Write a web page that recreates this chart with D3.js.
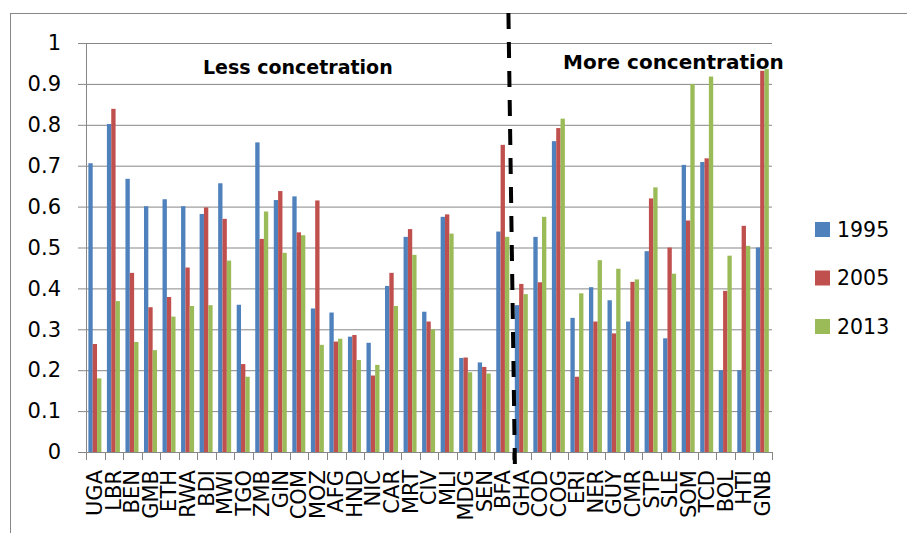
<!DOCTYPE html>
<html>
<head>
<meta charset="utf-8">
<script src="https://cdn.jsdelivr.net/npm/d3@7"></script>
<style>
  body { margin: 0; background: #fff; }
  svg { display: block; font-family: 'DejaVu Sans', sans-serif; }
</style>
</head>
<body>
<div id="chart"></div>
<script>
const countries = ['UGA', 'LBR', 'BEN', 'GMB', 'ETH', 'RWA', 'BDI', 'MWI', 'TGO', 'ZMB', 'GIN', 'COM', 'MOZ',
  'AFG', 'HND', 'NIC', 'CAR', 'MRT', 'CIV', 'MLI', 'MDG', 'SEN', 'BFA', 'GHA', 'COD', 'COG', 'ERI', 'NER',
  'GUY', 'CMR', 'STP', 'SLE', 'SOM', 'TCD', 'BOL', 'HTI', 'GNB']

const years = ['1995', '2005', '2013']

const v1995 = [0.706, 0.802, 0.668, 0.601, 0.618, 0.601, 0.582, 0.657, 0.360, 0.757, 0.616, 0.625, 0.351,
  0.341, 0.282, 0.267, 0.406, 0.526, 0.343, 0.575, 0.230, 0.219, 0.539, 0.359, 0.526, 0.760, 0.328, 0.403,
  0.371, 0.319, 0.491, 0.278, 0.702, 0.709, 0.200, 0.200, 0.500]

const v2005 = [0.264, 0.839, 0.438, 0.354, 0.379, 0.451, 0.598, 0.570, 0.215, 0.521, 0.638, 0.537, 0.615,
  0.270, 0.286, 0.187, 0.438, 0.545, 0.319, 0.581, 0.231, 0.208, 0.751, 0.411, 0.415, 0.792, 0.184, 0.319,
  0.290, 0.416, 0.620, 0.500, 0.566, 0.718, 0.394, 0.553, 0.932]

const v2013 = [0.180, 0.369, 0.269, 0.249, 0.331, 0.357, 0.359, 0.468, 0.184, 0.588, 0.487, 0.530, 0.262,
  0.277, 0.225, 0.213, 0.357, 0.482, 0.300, 0.534, 0.195, 0.192, 0.526, 0.386, 0.575, 0.815, 0.388, 0.469,
  0.448, 0.422, 0.647, 0.436, 0.900, 0.918, 0.480, 0.504, 0.936]

const yTicks = [0, 0.1, 0.2, 0.3, 0.4, 0.5, 0.6, 0.7, 0.8, 0.9, 1]
const yTickLabels = ['0', '0.1', '0.2', '0.3', '0.4', '0.5', '0.6', '0.7', '0.8', '0.9', '1']

const splitAt = 'GHA'
const leftNote = 'Less concetration'
const rightNote = 'More concentration'

const colors = ['#4f81bd', '#c0504d', '#9bbb59']
const gridColor = '#878787'

const width = 907
const height = 533
const plot = { left: 86, right: 772, top: 43, bottom: 452 }

const seriesData = [v1995, v2005, v2013]
const rows = countries.map((c, i) => ({
  country: c,
  values: years.map((y, k) => ({ year: y, value: seriesData[k][i] }))
}))

const svg = d3.select('#chart')
  .append('svg')
  .attr('width', width)
  .attr('height', height)

// outer chart border (runs off the picture on the right and bottom)
svg.append('rect')
  .attr('x', 10.5)
  .attr('y', 13.5)
  .attr('width', 1000)
  .attr('height', 600)
  .attr('fill', 'none')
  .attr('stroke', gridColor)
  .attr('stroke-width', 1)

const xScale = d3.scaleBand()
  .domain(countries)
  .range([plot.left, plot.right])
  .padding(0)

const groupW = 13
const xInner = d3.scaleBand()
  .domain(years)
  .range([(xScale.bandwidth() - groupW) / 2 - 0.4, (xScale.bandwidth() + groupW) / 2 - 0.4])

const yScale = d3.scaleLinear()
  .domain([0, 1])
  .range([plot.bottom, plot.top])

// gridlines and left axis
svg.append('g')
  .attr('transform', `translate(${plot.left},0)`)
  .call(d3.axisLeft(yScale)
    .tickValues(yTicks)
    .tickSize(-(plot.right - plot.left))
    .tickSizeOuter(0)
    .tickPadding(25)
    .tickFormat((d, i) => yTickLabels[i]))
  .call(g => g.select('.domain').remove())
  .call(g => g.selectAll('.tick line')
    .attr('x1', -8)
    .attr('stroke', gridColor))
  .call(g => g.selectAll('.tick text')
    .attr('font-size', '21px')
    .attr('font-family', "'DejaVu Sans', sans-serif")
    .attr('fill', '#000'))

svg.append('line')
  .attr('x1', plot.left + 0.5)
  .attr('x2', plot.left + 0.5)
  .attr('y1', yScale(1))
  .attr('y2', yScale(0))
  .attr('stroke', gridColor)

// bars
const groups = svg.selectAll('.group')
  .data(rows)
  .enter().append('g')
  .attr('class', 'group')
  .attr('transform', d => `translate(${xScale(d.country)},0)`)

groups.selectAll('rect')
  .data(d => d.values)
  .enter().append('rect')
  .attr('x', d => xInner(d.year))
  .attr('width', xInner.bandwidth())
  .attr('y', d => yScale(d.value))
  .attr('height', d => yScale(0) - yScale(d.value))
  .attr('fill', (d, i) => colors[i])

// category ticks at band boundaries
const boundaries = countries.map(c => xScale(c)).concat([plot.right])
svg.selectAll('.xtick')
  .data(boundaries)
  .enter().append('line')
  .attr('class', 'xtick')
  .attr('x1', d => Math.round(d) + 0.5)
  .attr('x2', d => Math.round(d) + 0.5)
  .attr('y1', yScale(0))
  .attr('y2', yScale(0) + 8)
  .attr('stroke', gridColor)

svg.append('line')
  .attr('x1', plot.left)
  .attr('x2', plot.right)
  .attr('y1', yScale(0) + 0.5)
  .attr('y2', yScale(0) + 0.5)
  .attr('stroke', gridColor)

// rotated category labels
svg.selectAll('.xlabel')
  .data(countries)
  .enter().append('text')
  .attr('class', 'xlabel')
  .attr('transform', d => `translate(${xScale(d) + xScale.bandwidth() / 2 - 0.5},${yScale(0) + 18}) rotate(-90)`)
  .attr('text-anchor', 'end')
  .attr('dy', '0.36em')
  .attr('font-size', '21px')
  .text(d => d)

// dashed split line
const splitX = xScale(splitAt)
svg.append('line')
  .attr('x1', splitX - 4)
  .attr('y1', 13)
  .attr('x2', splitX + 2.6)
  .attr('y2', 474)
  .attr('stroke', '#000')
  .attr('stroke-width', 4)
  .attr('stroke-dasharray', '16 13')

// annotations
svg.append('text')
  .attr('x', 203)
  .attr('y', 74)
  .attr('font-size', '19px')
  .attr('font-weight', 'bold')
  .text(leftNote)

svg.append('text')
  .attr('x', 563)
  .attr('y', 69)
  .attr('font-size', '20px')
  .attr('font-weight', 'bold')
  .text(rightNote)

// legend
const legend = svg.append('g')
  .attr('transform', 'translate(815, 222)')

legend.selectAll('rect')
  .data(years)
  .enter().append('rect')
  .attr('x', 0)
  .attr('y', (d, i) => i * 48.5)
  .attr('width', 15)
  .attr('height', 15)
  .attr('fill', (d, i) => colors[i])

legend.selectAll('text')
  .data(years)
  .enter().append('text')
  .attr('x', 22)
  .attr('y', (d, i) => i * 48.5 + 7.5)
  .attr('dy', '0.36em')
  .attr('font-size', '20.5px')
  .text(d => d)
</script>
</body>
</html>
